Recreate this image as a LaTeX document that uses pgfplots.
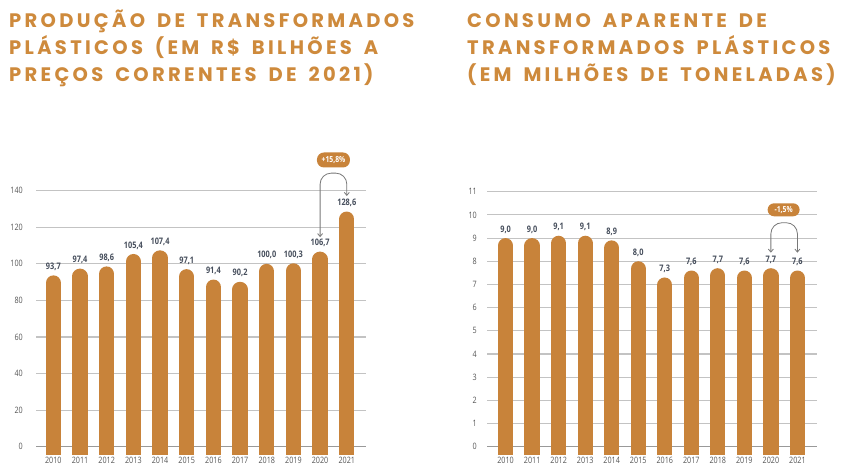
\documentclass[border=0pt]{standalone}
\usepackage{fontspec}
\usepackage{pgfplots}
\pgfplotsset{compat=1.18}
\usetikzlibrary{arrows.meta}
\setmainfont{Open Sans}
\newfontfamily\titlefont[LetterSpace=17, WordSpace=1.6]{Poppins}
\newfontfamily\cond[FakeStretch=0.82]{Open Sans}
\definecolor{barc}{RGB}{200,131,58}
\definecolor{ttl}{RGB}{206,138,60}
\definecolor{gridc}{RGB}{195,195,195}
\definecolor{txt}{RGB}{85,85,85}
\definecolor{vtxt}{RGB}{70,78,92}
\definecolor{arr}{RGB}{120,120,120}

\pgfplotstableread{
x v
0 93.7
1 97.4
2 98.6
3 105.4
4 107.4
5 97.1
6 91.4
7 90.2
8 100.0
9 100.3
10 106.7
11 128.6
}\prod
\pgfplotstableread{
x v
0 9.0
1 9.0
2 9.1
3 9.1
4 8.9
5 8.0
6 7.3
7 7.6
8 7.7
9 7.6
10 7.7
11 7.6
}\cons

\pgfplotsset{
  mybars/.style={
    scale only axis, anchor=south west, width=330bp,
    /pgf/number format/assume math mode=true,
    axis x line*=bottom, axis y line*=left,
    y axis line style={draw=none},
    x axis line style={-, draw=gray!80, line width=1.3bp},
    major tick length=0pt,
    ymajorgrids, grid style={gridc, line width=1.1bp},
    xtick={0,...,11},
    xticklabels={2010,2011,2012,2013,2014,2015,2016,2017,2018,2019,2020,2021},
    tick label style={font=\cond\fontsize{8.8bp}{10bp}\selectfont, text=txt},
    xticklabel style={inner sep=0pt, yshift=-10bp},
    clip mode=individual,
    ymin=0,
  },
  barplot/.style={ycomb, draw=barc, line width=15.3bp, line cap=round, yshift=-7.65bp},
  labplot/.style={draw=none, mark=none,
    nodes near coords={\pgfmathprintnumber[fixed,fixed zerofill,precision=1,use comma,assume math mode=true]{\pgfplotspointmeta}},
    every node near coord/.append style={font=\cond\bfseries\fontsize{9bp}{10bp}\selectfont, text=vtxt, inner sep=0pt, anchor=south, yshift=4.5bp}},
}

\begin{document}
\begin{tikzpicture}[x=1bp,y=1bp]
\useasboundingbox (0,0) rectangle (848bp,464bp);
\fill[white] (0,0) rectangle (848bp,464bp);

\begin{scope}[every node/.style={anchor=base west, inner sep=0pt, text=ttl, font=\titlefont\bfseries\fontsize{19.5bp}{20bp}\selectfont}]
\node at (9bp,436.7bp) {PRODUÇÃO DE TRANSFORMADOS};
\node at (9bp,409.7bp) {PLÁSTICOS (EM R\$ BILHÕES A};
\node at (9bp,382.7bp) {PREÇOS CORRENTES DE 2021)};
\node at (467bp,436.7bp) {CONSUMO APARENTE DE};
\node at (467bp,409.7bp) {TRANSFORMADOS PLÁSTICOS};
\node at (467bp,382.7bp) {(EM MILHÕES DE TONELADAS)};
\end{scope}

\begin{axis}[mybars, at={(36bp,17.3bp)}, height=256bp, xmin=-0.65, xmax=11.72, ymax=140,
  ytick={0,20,...,140}, yticklabel style={inner sep=0pt, xshift=-13bp}]
\addplot[barplot] table[x=x,y=v]{\prod};
\addplot[labplot] table[x=x,y=v]{\prod};
\draw[arr, line width=0.8bp, rounded corners=11bp, {Straight Barb[length=3bp,width=5bp]}-{Straight Barb[length=3bp,width=5bp]}]
  (axis cs:10,114.6) -- (axis cs:10,149.6) -- (axis cs:11,149.6) -- (axis cs:11,137.1);
\node[fill=barc, text=white, rounded corners=7bp, minimum width=33bp, minimum height=15bp, inner sep=0pt,
  font=\cond\bfseries\fontsize{8.3bp}{9bp}\selectfont] at (axis cs:10.5,156.8) {+15,8\%};
\end{axis}

\begin{axis}[mybars, at={(487.3bp,17.3bp)}, height=255bp, xmin=-0.69, xmax=11.75, ymax=11,
  ytick={0,1,...,11}, yticklabel style={inner sep=0pt, xshift=-10.3bp}]
\addplot[barplot] table[x=x,y=v]{\cons};
\addplot[labplot] table[x=x,y=v]{\cons};
\draw[arr, line width=0.8bp, rounded corners=11bp, {Straight Barb[length=3bp,width=5bp]}-{Straight Barb[length=3bp,width=5bp]}]
  (axis cs:10,8.37) -- (axis cs:10,9.66) -- (axis cs:11,9.66) -- (axis cs:11,8.37);
\node[fill=barc, text=white, rounded corners=6.5bp, minimum width=32bp, minimum height=13bp, inner sep=0pt,
  font=\cond\bfseries\fontsize{8.3bp}{9bp}\selectfont] at (axis cs:10.48,10.22) {-1,5\%};
\end{axis}
\end{tikzpicture}
\end{document}
